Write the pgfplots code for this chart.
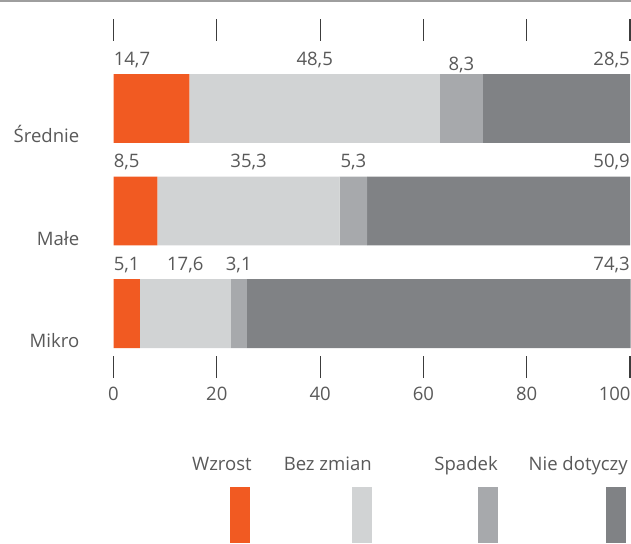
\documentclass[border=0pt]{standalone}
\usepackage{pgfplots}
\pgfplotsset{compat=1.18}
\usepackage{fontspec}
\setmainfont{Open Sans}

\definecolor{wzrost}{HTML}{F15A22}
\definecolor{bezzmian}{HTML}{D1D3D4}
\definecolor{spadek}{HTML}{A7A9AC}
\definecolor{niedot}{HTML}{808285}
\definecolor{txt}{HTML}{595959}
\definecolor{rulec}{HTML}{9E9E9E}
\definecolor{tickc}{HTML}{3C3C3C}

\newcommand{\lbl}{\fontsize{13.9}{16}\selectfont}

\begin{document}
\begin{tikzpicture}[x=0.75pt,y=-0.75pt,font=\lbl,text=txt]
\path[use as bounding box] (0,0) rectangle (631,543);
\clip (0,0) rectangle (631,543);
% top rule
\draw[rulec,line width=1.9pt] (0,1.2) -- (631,1.2);

\begin{axis}[
  at={(85.125pt,-30.75pt)}, anchor=north west,
  scale only axis, width=387.4pt, height=236.25pt,
  xbar stacked, bar width=0.673,
  xmin=0, xmax=100, ymin=-0.4146, ymax=2.6585,
  axis line style={draw=none},
  xtick={0,20,40,60,80,100}, xticklabels={0,20,40,60,80,},
  ytick=\empty,
  tick align=outside, xtick pos=both, xticklabel pos=lower,
  major tick length=16.5pt,
  every tick/.style={tickc, line width=0.9pt},
  xticklabel style={anchor=north, inner sep=0pt, yshift=-6.75pt, text=txt, font=\lbl},
  /pgf/number format/assume math mode=true,
  clip=false,
]
% rows: 0 = Mikro, 1 = Małe, 2 = Średnie
\addplot[fill=wzrost, draw=none]   coordinates {(5.1,0) (8.5,1) (14.7,2)};
\addplot[fill=bezzmian, draw=none] coordinates {(17.6,0) (35.3,1) (48.5,2)};
\addplot[fill=spadek, draw=none]   coordinates {(3.1,0) (5.3,1) (8.3,2)};
\addplot[fill=niedot, draw=none]   coordinates {(74.3,0) (50.9,1) (28.5,2)};

% last tick label kept inside the right edge
\node[anchor=north east, inner sep=0pt, yshift=-23.25pt, xshift=0.6pt] at (axis cs:100,-0.4146) {100};

% value labels above the bars
\node[anchor=base west, inner sep=0pt] at (axis cs:0,2.42) {14,7};
\node[anchor=base, inner sep=0pt] at (axis cs:38.95,2.42) {48,5};
\node[anchor=base, inner sep=0pt] at (axis cs:67.35,2.371) {8,3};
\node[anchor=base east, inner sep=0pt] at (axis cs:100,2.42) {28,5};

\node[anchor=base west, inner sep=0pt] at (axis cs:0,1.42) {8,5};
\node[anchor=base, inner sep=0pt] at (axis cs:26.15,1.42) {35,3};
\node[anchor=base, inner sep=0pt] at (axis cs:46.45,1.42) {5,3};
\node[anchor=base east, inner sep=0pt] at (axis cs:100,1.42) {50,9};

\node[anchor=base west, inner sep=0pt] at (axis cs:0,0.42) {5,1};
\node[anchor=base, inner sep=0pt] at (axis cs:13.9,0.42) {17,6};
\node[anchor=base, inner sep=0pt] at (axis cs:24.25,0.42) {3,1};
\node[anchor=base east, inner sep=0pt] at (axis cs:100,0.42) {74,3};

% category names
\node[anchor=base east, inner sep=0pt, xshift=-25.5pt, yshift=-25.5pt] at (axis cs:0,2) {Średnie};
\node[anchor=base east, inner sep=0pt, xshift=-25.5pt, yshift=-25.5pt] at (axis cs:0,1) {Małe};
\node[anchor=base east, inner sep=0pt, xshift=-25.5pt, yshift=-25.5pt] at (axis cs:0,0) {Mikro};
\end{axis}

% legend
\fill[wzrost]   (230,487) rectangle (250,543);
\fill[bezzmian] (352,487) rectangle (372,543);
\fill[spadek]   (478,487) rectangle (498,543);
\fill[niedot]   (606,487) rectangle (626,543);
\node[anchor=base east, inner sep=0pt] at (252,470) {Wzrost};
\node[anchor=base east, inner sep=0pt] at (372,470) {Bez zmian};
\node[anchor=base east, inner sep=0pt] at (498,470) {Spadek};
\node[anchor=base east, inner sep=0pt] at (628,470) {Nie dotyczy};
\end{tikzpicture}
\end{document}
